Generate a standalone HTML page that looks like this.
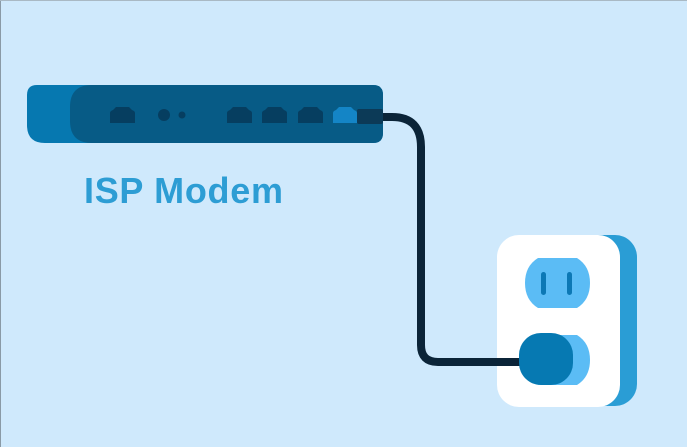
<!DOCTYPE html>
<html><head><meta charset="utf-8"><style>
html,body{margin:0;padding:0;}
body{width:687px;height:447px;overflow:hidden;background:#cfe9fc;}
svg{display:block;}
</style></head><body>
<svg width="687" height="447" viewBox="0 0 687 447" xmlns="http://www.w3.org/2000/svg">
<rect x="0" y="0" width="687" height="447" fill="#cfe9fc"/>
<line x1="0.5" y1="0" x2="0.5" y2="447" stroke="#8a9aa6" stroke-width="1"/>
<line x1="0" y1="0.5" x2="687" y2="0.5" stroke="#a9b9c4" stroke-width="1"/>
<!-- modem -->
<path d="M37 85 H373 Q383 85 383 95 V133 Q383 143 373 143 H45 Q27 143 27 125 V95 Q27 85 37 85 Z" fill="#0678b0"/>
<path d="M92 85 H373 Q383 85 383 95 V133 Q383 143 373 143 H92 Q70 143 70 121 V107 Q70 85 92 85 Z" fill="#075b86"/>
<!-- ports -->
<g fill="#063e60">
<path d="M110 113 Q110 111 113 110 L116 107 H129 L132 110 Q135 111 135 113 V123 H110 Z"/>
<path d="M227 113 Q227 111 230 110 L233 107 H246 L249 110 Q252 111 252 113 V123 H227 Z"/>
<path d="M262 113 Q262 111 265 110 L268 107 H281 L284 110 Q287 111 287 113 V123 H262 Z"/>
<path d="M298 113 Q298 111 301 110 L304 107 H317 L320 110 Q323 111 323 113 V123 H298 Z"/>
<circle cx="164" cy="115" r="6"/>
<circle cx="182" cy="115" r="3.5"/>
</g>
<path d="M333 113 Q333 111 336 110 L339 107 H351 L354 110 Q357 111 357 113 V123 H333 Z" fill="#1485c6"/>
<!-- label -->
<text x="84" y="203" font-family="Liberation Sans, sans-serif" font-weight="bold" font-size="36" letter-spacing="0.7" fill="#2d9dd4">ISP Modem</text>
<!-- outlet -->
<rect x="514" y="235" width="123" height="171" rx="22" fill="#2a9dd5"/>
<rect x="497" y="235" width="123" height="172" rx="22" fill="#ffffff"/>
<path d="M538 258 H577 Q590 266 590 283 Q590 300 577 308 H538 Q525 300 525 283 Q525 266 538 258 Z" fill="#5bbcf5"/>
<rect x="541" y="272" width="5" height="23" rx="2.5" fill="#0c78b5"/>
<rect x="567" y="272" width="5" height="23" rx="2.5" fill="#0c78b5"/>
<path d="M538 335 H577 Q590 343 590 360 Q590 377 577 385 H538 Q525 377 525 360 Q525 343 538 335 Z" fill="#5bbcf5"/>
<!-- cable -->
<path d="M380 117 H392 Q421 117 421 147 V345 Q421 362 438 362 H528" fill="none" stroke="#0b2438" stroke-width="8"/>
<rect x="357" y="109" width="26" height="15" rx="2" fill="#0c3a57"/>
<rect x="519" y="333" width="54" height="52" rx="22" fill="#0679b2"/>
</svg>
</body></html>
